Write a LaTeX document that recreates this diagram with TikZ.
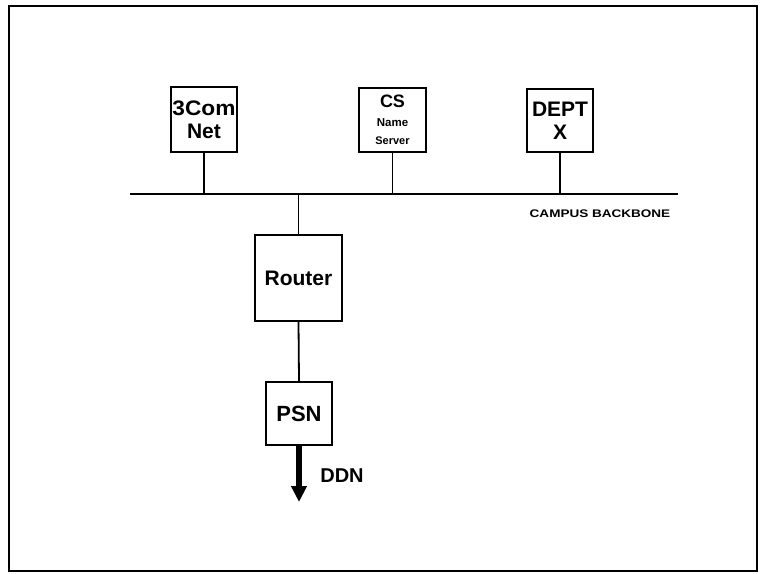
\documentclass[tikz,border=0pt]{standalone}
\usepackage{fontspec}
\usepackage{graphicx}
\setmainfont{Liberation Sans}
\usetikzlibrary{arrows.meta}
\begin{document}
\begin{tikzpicture}[x=1pt,y=-1pt,
  box/.style={draw, line width=2pt, inner sep=0pt, align=center, font=\bfseries},
  stem/.style={line width=1.8pt},
  lbl/.style={inner sep=0pt, font=\bfseries}
]
\useasboundingbox (0,0) rectangle (760,573);
\draw[line width=2pt] (9,6) rectangle (757,571);

\node[box, minimum width=66pt, minimum height=65pt,
      font=\bfseries\fontsize{21}{23}\selectfont] (tcom) at (204,119.5)
      {\scalebox{1.08}[1]{3Com}\\Net};
\node[box, minimum width=67pt, minimum height=64pt,
      font=\bfseries\fontsize{11}{18.5}\selectfont] (cs) at (392.5,120)
      {{\fontsize{18}{18.5}\selectfont CS}\\{\fontsize{11.5}{18.5}\selectfont Name}\\Server};
\node[box, minimum width=66pt, minimum height=63pt,
      font=\bfseries\fontsize{21}{23}\selectfont] (dept) at (560,120.5)
      {DEPT\\X};
\node[box, minimum width=87pt, minimum height=86pt,
      font=\bfseries\fontsize{21}{22}\selectfont] (router) at (298.5,278) {Router};
\node[box, minimum width=66pt, minimum height=63pt,
      font=\bfseries\fontsize{22}{22}\selectfont] (psn) at (299,413.5) {PSN};

\coordinate (bl) at (130,194);
\coordinate (br) at (678,194);
\draw[line width=2.8pt] (bl) -- (br);

\draw[stem] (tcom.south) -- (tcom.south |- bl);
\draw[stem] (cs.south) -- (cs.south |- bl);
\draw[stem] (dept.south) -- (dept.south |- bl);
\draw[stem] (router.north) -- (router.north |- bl);
\draw[stem] (router.south) -- (psn.north);

\node[lbl, font=\bfseries\fontsize{11}{12}\selectfont] (cb) at (600,214)
      {\scalebox{1.23}[1]{CAMPUS BACKBONE}};

\coordinate (ddnend) at (299,502);
\draw[line width=5.5pt, -{Triangle[width=15pt,length=16pt]}] (psn.south) -- (ddnend);
\node[lbl, font=\bfseries\fontsize{20}{20}\selectfont] (ddn) at (342,476) {DDN};
\end{tikzpicture}
\end{document}
